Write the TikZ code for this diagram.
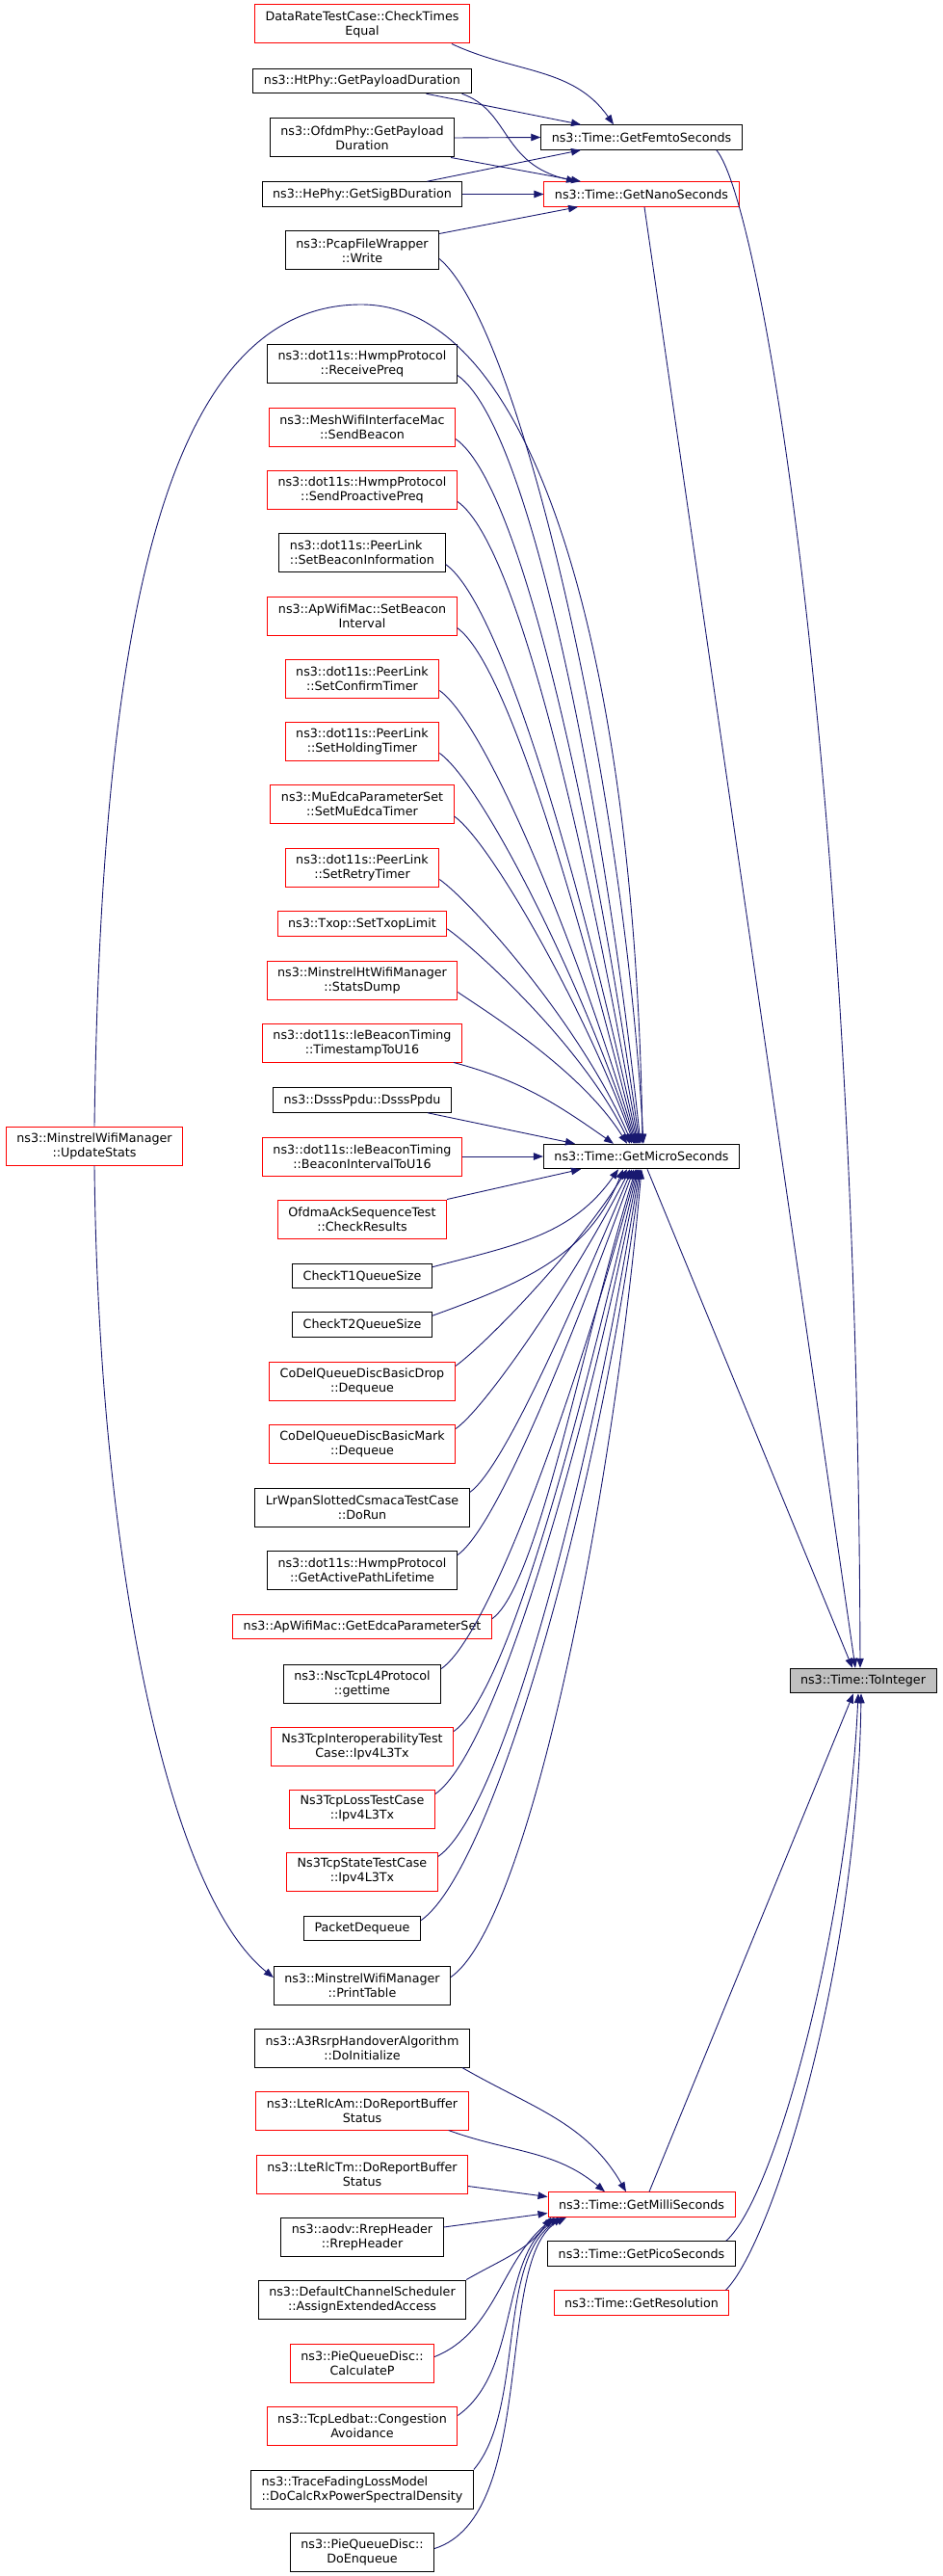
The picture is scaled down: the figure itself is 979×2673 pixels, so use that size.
\documentclass[tikz,border=0pt]{standalone}
\usepackage{fontspec}
\setmainfont{DejaVu Sans}
\usetikzlibrary{arrows.meta}
\definecolor{edgeblue}{HTML}{191970}
\definecolor{selgray}{HTML}{BFBFBF}

\begin{document}
\begin{tikzpicture}[x=1pt,y=-1pt,
  fn/.style={draw=black,line width=1pt,minimum height=25.5pt,inner xsep=11pt,inner ysep=1pt,
    font=\fontsize{12.7}{15}\selectfont,align=center},
  two/.style={minimum height=40pt},
  hot/.style={draw=red},
  call/.style={draw=edgeblue,line width=0.9pt,-{Triangle[length=10pt,width=7.5pt]}}]
\useasboundingbox (0,0) rectangle (979,2673);

% callee column
\node[fn] (femto) at (666,142.5) {ns3::Time::GetFemtoSeconds};
\node[fn,hot] (nano) at (666,201.5) {ns3::Time::GetNanoSeconds};
\node[fn] (micro) at (666,1200) {ns3::Time::GetMicroSeconds};
\node[fn,hot] (milli) at (666,2287.5) {ns3::Time::GetMilliSeconds};
\node[fn] (pico) at (666,2338.5) {ns3::Time::GetPicoSeconds};
\node[fn,hot] (resol) at (666,2389.5) {ns3::Time::GetResolution};
\node[fn,fill=selgray] (tointeger) at (896,1744) {ns3::Time::ToInteger};
\node[fn,two,hot] (updatestats) at (98,1189) {ns3::MinstrelWifiManager\\::UpdateStats};

% callers
\node[fn,two,hot] (ratetest) at (376,25) {DataRateTestCase::CheckTimes\\Equal};
\node[fn] (htphy) at (376,84) {ns3::HtPhy::GetPayloadDuration};
\node[fn,two] (ofdmphy) at (376,143) {ns3::OfdmPhy::GetPayload\\Duration};
\node[fn] (hephy) at (376,201.5) {ns3::HePhy::GetSigBDuration};
\node[fn,two] (pcap) at (376,260) {ns3::PcapFileWrapper\\::Write};
\node[fn,two] (recvpreq) at (376,377) {ns3::dot11s::HwmpProtocol\\::ReceivePreq};
\node[fn,two,hot] (sendbeacon) at (376,443) {ns3::MeshWifiInterfaceMac\\::SendBeacon};
\node[fn,two,hot] (proactive) at (376,508) {ns3::dot11s::HwmpProtocol\\::SendProactivePreq};
\node[fn,two,align=left] (beaconinfo) at (376,573) {ns3::dot11s::PeerLink\\::SetBeaconInformation};
\node[fn,two,hot] (beaconint) at (376,639) {ns3::ApWifiMac::SetBeacon\\Interval};
\node[fn,two,hot] (confirm) at (376,704) {ns3::dot11s::PeerLink\\::SetConfirmTimer};
\node[fn,two,hot] (holding) at (376,769) {ns3::dot11s::PeerLink\\::SetHoldingTimer};
\node[fn,two,hot] (muedca) at (376,834.5) {ns3::MuEdcaParameterSet\\::SetMuEdcaTimer};
\node[fn,two,hot] (retry) at (376,900) {ns3::dot11s::PeerLink\\::SetRetryTimer};
\node[fn,hot] (txop) at (376,958.5) {ns3::Txop::SetTxopLimit};
\node[fn,two,hot] (statsdump) at (376,1017) {ns3::MinstrelHtWifiManager\\::StatsDump};
\node[fn,two,hot] (tstou16) at (376,1082) {ns3::dot11s::IeBeaconTiming\\::TimestampToU16};
\node[fn] (dsss) at (376,1141.5) {ns3::DsssPpdu::DsssPpdu};
\node[fn,two,hot] (bitou16) at (376,1200) {ns3::dot11s::IeBeaconTiming\\::BeaconIntervalToU16};
\node[fn,two,hot] (ackseq) at (376,1265) {OfdmaAckSequenceTest\\::CheckResults};
\node[fn] (checkt1) at (376,1324) {CheckT1QueueSize};
\node[fn] (checkt2) at (376,1374.5) {CheckT2QueueSize};
\node[fn,two,hot] (codeldrop) at (376,1433) {CoDelQueueDiscBasicDrop\\::Dequeue};
\node[fn,two,hot] (codelmark) at (376,1498) {CoDelQueueDiscBasicMark\\::Dequeue};
\node[fn,two] (lrwpan) at (376,1564) {LrWpanSlottedCsmacaTestCase\\::DoRun};
\node[fn,two] (pathlife) at (376,1629) {ns3::dot11s::HwmpProtocol\\::GetActivePathLifetime};
\node[fn,hot] (edcaset) at (376,1688) {ns3::ApWifiMac::GetEdcaParameterSet};
\node[fn,two] (gettime) at (376,1747) {ns3::NscTcpL4Protocol\\::gettime};
\node[fn,two,hot] (interop) at (376,1812) {Ns3TcpInteroperabilityTest\\Case::Ipv4L3Tx};
\node[fn,two,hot] (losstx) at (376,1877) {Ns3TcpLossTestCase\\::Ipv4L3Tx};
\node[fn,two,hot] (statetx) at (376,1942) {Ns3TcpStateTestCase\\::Ipv4L3Tx};
\node[fn] (pktdeq) at (376,2001) {PacketDequeue};
\node[fn,two] (printtable) at (376,2060) {ns3::MinstrelWifiManager\\::PrintTable};
\node[fn,two] (a3rsrp) at (376,2125) {ns3::A3RsrpHandoverAlgorithm\\::DoInitialize};
\node[fn,two,hot] (rlcam) at (376,2190) {ns3::LteRlcAm::DoReportBuffer\\Status};
\node[fn,two,hot] (rlctm) at (376,2256) {ns3::LteRlcTm::DoReportBuffer\\Status};
\node[fn,two] (rrep) at (376,2321) {ns3::aodv::RrepHeader\\::RrepHeader};
\node[fn,two] (chansched) at (376,2386) {ns3::DefaultChannelScheduler\\::AssignExtendedAccess};
\node[fn,two,hot] (calcp) at (376,2452) {ns3::PieQueueDisc::\\CalculateP};
\node[fn,two,hot] (ledbat) at (376,2517) {ns3::TcpLedbat::Congestion\\Avoidance};
\node[fn,two,align=left] (tracefade) at (376,2583) {ns3::TraceFadingLossModel\\::DoCalcRxPowerSpectralDensity};
\node[fn,two] (doenq) at (376,2648) {ns3::PieQueueDisc::\\DoEnqueue};

% femto / nano
\draw[call] ([xshift=-19pt]ratetest.south east) to[out=-25,in=125] ([xshift=-29pt]femto.north);
\draw[call] ([xshift=-47pt]htphy.south east) -- ([xshift=-63pt]femto.north);
\draw[call] ([xshift=-10pt]htphy.south east) .. controls (530,115) and (520,170) .. ([xshift=-68pt]nano.north);
\draw[call] (ofdmphy.east) -- (femto.west);
\draw[call] ([xshift=-4pt]ofdmphy.south east) -- ([xshift=-63pt]nano.north);
\draw[call] ([xshift=-37pt]hephy.north east) -- ([xshift=-63pt]femto.south);
\draw[call] (hephy.east) -- (nano.west);
\draw[call] ([yshift=-3pt]pcap.north east) -- ([xshift=-66pt]nano.south);

% micro
\draw[call] ([yshift=12pt]pcap.south east) to[out=-40,in=93,out looseness=.3] ([xshift=2pt]micro.north);
\draw[call] (updatestats.north) .. controls (105,650) and (170,316) .. (375,316)
  .. controls (560,316) and (660,700) .. ([xshift=1pt]micro.north);
\draw[call] (updatestats.south) .. controls (102,1600) and (170,1960) .. ([yshift=8pt]printtable.west);
\foreach \n/\a/\s in {recvpreq/96/-1, sendbeacon/98/-2, proactive/100/-3, beaconinfo/102/-4,
  beaconint/104/-5, confirm/106/-6, holding/108/-7, muedca/110/-8, retry/113/-10,
  txop/116/-12, statsdump/122/-15}
  \draw[call] ([yshift=8pt]\n.south east) to[out=-35,in=\a,out looseness=.3] ([xshift=\s pt]micro.north);
\draw[call] ([xshift=-9pt]tstou16.south east) to[out=-15,in=145] ([xshift=-29pt]micro.north);
\draw[call] ([xshift=-25pt]dsss.south east) -- ([xshift=-69pt]micro.north);
\draw[call] (bitou16.east) -- (micro.west);
\draw[call] (ackseq.north east) -- ([xshift=-63pt]micro.south);
\draw[call] ([yshift=-4pt]checkt1.north east) to[out=15,in=-125] ([xshift=-24pt]micro.south);
\draw[call] ([yshift=-4pt]checkt2.north east) to[out=20,in=-112] ([xshift=-19pt]micro.south);
\foreach \n/\a/\s in {codeldrop/122/-15, codelmark/117/-12, lrwpan/113/-10, pathlife/110/-8,
  edcaset/107/-6, gettime/105/-5, interop/103/-4, losstx/101/-3, statetx/99/-2,
  pktdeq/97/-1}
  \draw[call] ([yshift=-5pt]\n.north east) to[out=35,in=-\a,out looseness=.3] ([xshift=\s pt]micro.south);
\draw[call] ([yshift=-12pt]printtable.north east) to[out=35,in=-95,out looseness=.3] (micro.south);

% milli
\draw[call] ([xshift=-8pt]a3rsrp.south east) to[out=-30,in=120] ([xshift=-16pt]milli.north);
\draw[call] ([xshift=-21pt]rlcam.south east) to[out=-20,in=140] ([xshift=-38pt]milli.north);
\draw[call] ([yshift=8pt]rlctm.south east) -- ([yshift=8pt]milli.west);
\draw[call] ([yshift=10pt]rrep.east) -- ([yshift=-9pt]milli.west);
\draw[call] (chansched.north east) to[out=30,in=-125] ([xshift=-94pt]milli.south);
\draw[call] ([yshift=-14pt]calcp.north east) .. controls (515,2420) and (520,2345) .. ([xshift=-90pt]milli.south);
\draw[call] ([yshift=-10pt]ledbat.north east) .. controls (540,2460) and (518,2345) .. ([xshift=-86pt]milli.south);
\draw[call] (tracefade.north east) .. controls (545,2500) and (515,2345) .. ([xshift=-82pt]milli.south);
\draw[call] ([yshift=-17pt]doenq.north east) .. controls (560,2610) and (512,2340) .. ([xshift=-78pt]milli.south);

% tointeger
\draw[call] ([xshift=-27pt]femto.south east) .. controls (790,210) and (890,800) .. ([xshift=-3pt]tointeger.north);
\draw[call] ([xshift=3pt]nano.south) -- ([xshift=-8pt]tointeger.north);
\draw[call] ([xshift=6pt]micro.south) -- ([xshift=-11pt]tointeger.north);
\draw[call] ([xshift=8pt]milli.north) -- ([xshift=-10pt]tointeger.south);
\draw[call] ([xshift=-10pt]pico.north east) .. controls (805,2280) and (880,2000) .. ([xshift=-5pt]tointeger.south);
\draw[call] ([xshift=-4pt]resol.north east) .. controls (800,2330) and (890,2050) .. ([xshift=-2pt]tointeger.south);
\end{tikzpicture}
\end{document}
